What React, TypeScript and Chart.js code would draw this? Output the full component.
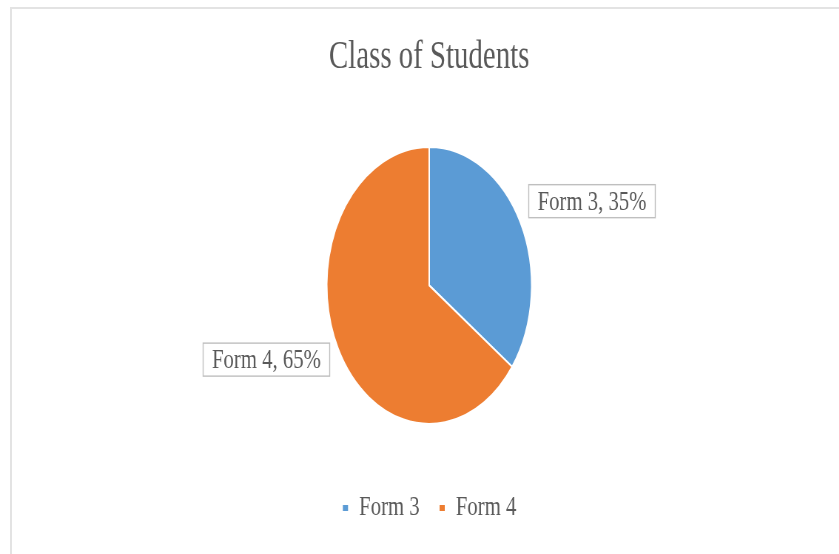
import React, { useEffect, useRef } from "react";
import { Chart, registerables } from "chart.js";

Chart.register(...registerables);

const TITLE = "Class of Students";
const CATEGORIES = ["Form 3", "Form 4"];
const VALUES = [35, 65];
const COLORS = ["#5B9BD5", "#ED7D31"];

const SX = 0.74;
const W = Math.round(839 / SX);
const H = 554;
const FONT = "'Liberation Serif', 'Times New Roman', serif";
const TEXT = "#595959";

const labelPlugin = {
  id: "sliceLabels",
  afterDatasetsDraw(chart: any) {
    const ctx = chart.ctx;
    const meta = chart.getDatasetMeta(0);
    const data = chart.data.datasets[0].data as number[];
    const total = data.reduce((a: number, b: number) => a + b, 0);
    ctx.save();
    ctx.font = `28px ${FONT}`;
    ctx.textBaseline = "middle";
    ctx.textAlign = "center";
    meta.data.forEach((arc: any, i: number) => {
      const p = arc.getProps(["x", "y", "startAngle", "endAngle", "outerRadius"], true);
      const mid = (p.startAngle + p.endAngle) / 2;
      const c = Math.cos(mid);
      const s = Math.sin(mid);
      const ax = p.x + c * p.outerRadius * 1.09;
      const cy = p.y + s * p.outerRadius * 1.26 - 5;
      const pct = Math.round((data[i] / total) * 100);
      const text = `${chart.data.labels[i]}, ${pct}%`;
      const tw = ctx.measureText(text).width;
      const bw = tw + 24;
      const bh = 33;
      const left = c >= 0 ? ax : ax - bw;
      ctx.fillStyle = "#ffffff";
      ctx.fillRect(left, cy - bh / 2, bw, bh);
      ctx.strokeStyle = "#bfbfbf";
      ctx.lineWidth = 1.4;
      ctx.strokeRect(left, cy - bh / 2, bw, bh);
      ctx.fillStyle = TEXT;
      ctx.fillText(text, left + bw / 2, cy + 1);
    });
    ctx.restore();
  },
};

export default function App() {
  const ref = useRef<HTMLCanvasElement>(null);
  useEffect(() => {
    if (!ref.current) return;
    const chart = new Chart(ref.current, {
      type: "pie",
      data: {
        labels: CATEGORIES,
        datasets: [
          {
            data: VALUES,
            backgroundColor: COLORS,
            borderColor: "#ffffff",
            borderWidth: 2,
          },
        ],
      },
      options: {
        responsive: false,
        animation: false,
        devicePixelRatio: 1,
        radius: 138.5,
        layout: { padding: { left: 26, right: 0, top: 14, bottom: 22 } },
        plugins: {
          title: {
            display: true,
            text: TITLE,
            color: TEXT,
            font: { family: FONT, size: 39, weight: "normal" },
            padding: { top: 20, bottom: 22 },
          },
          legend: {
            display: true,
            position: "bottom",
            labels: {
              color: TEXT,
              font: { family: FONT, size: 28 },
              boxWidth: 9,
              boxHeight: 8,
              padding: 26,
            },
          },
          tooltip: { enabled: false },
        },
      } as any,
      plugins: [labelPlugin],
    });
    return () => chart.destroy();
  }, []);

  return (
    <div
      style={{
        position: "fixed",
        left: 0,
        top: 0,
        width: 839,
        height: 554,
        overflow: "hidden",
        background: "#ffffff",
      }}
    >
      <div
        style={{
          position: "absolute",
          left: 0,
          top: 0,
          width: W,
          height: H,
          transform: `scaleX(${SX})`,
          transformOrigin: "0 0",
        }}
      >
        <canvas ref={ref} width={W} height={H} style={{ display: "block" }} />
      </div>
      <div
        style={{
          position: "absolute",
          left: 10,
          top: 7,
          width: 900,
          height: 600,
          border: "2px solid #e3e3e3",
          boxSizing: "border-box",
          pointerEvents: "none",
        }}
      />
    </div>
  );
}
